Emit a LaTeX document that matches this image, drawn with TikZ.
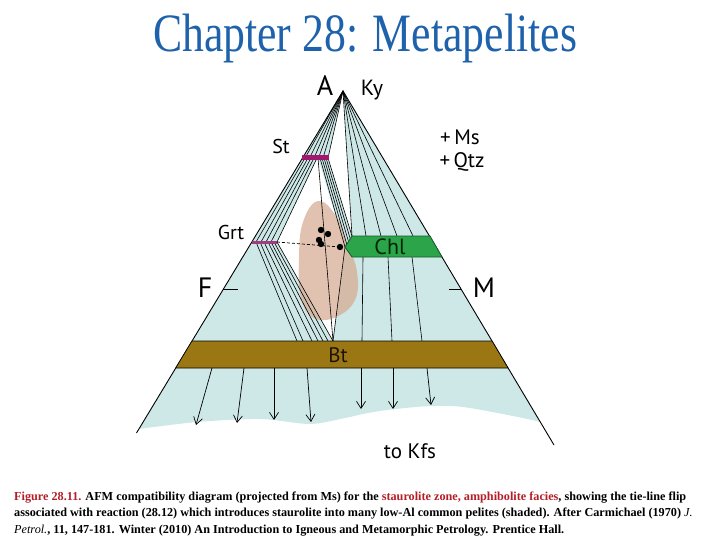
\documentclass[tikz,border=0pt]{standalone}
\usepackage{fontspec}
\usepackage{graphicx}
\setmainfont{Liberation Serif}
\newfontfamily\labelfont{PT Sans}
\usetikzlibrary{arrows.meta, positioning, calc}

\definecolor{tiefill}{RGB}{205,232,231}
\definecolor{shadefill}{RGB}{215,172,148}
\definecolor{stcol}{RGB}{163,24,111}
\definecolor{grtcol}{RGB}{160,60,130}
\definecolor{chlcol}{RGB}{44,165,74}
\definecolor{chlline}{RGB}{20,90,40}
\definecolor{btcol}{RGB}{155,119,20}
\definecolor{titleblue}{RGB}{31,98,172}
\definecolor{capred}{RGB}{180,30,40}

\tikzset{
  tie/.style={black, line width=0.6pt},
  lbl/.style={font=\labelfont\fontsize{20}{20}\selectfont, inner sep=0pt},
  corner/.style={font=\labelfont\fontsize{28}{28}\selectfont, inner sep=0pt},
  kfs/.style={-{Straight Barb[length=7pt,width=9pt]}, line width=0.7pt},
}

\begin{document}
\begin{tikzpicture}[x=1pt, y=-1pt]
    \useasboundingbox (0,0) rectangle (720,540);

    % Corners and phase points
    \coordinate (A) at (343,91);
    \coordinate (stL) at (302.5,158);
    \coordinate (stM) at (318,158);
    \coordinate (stR) at (328,158);
    \coordinate (grL) at (252,242);
    \coordinate (grR) at (277,242);
    \coordinate (chTip) at (345,247);
    \coordinate (chTL) at (352,236);
    \coordinate (btP) at (333,341);
    \coordinate (btTL) at (192,341);
    \coordinate (btTR) at (492,341);
    \coordinate (btBL) at (175.7,368);
    \coordinate (btBR) at (508,368);
    \coordinate (Fend) at (136.5,433);
    \coordinate (Mend) at (554,445);

    % Two-phase fields (light blue)
    \fill[tiefill] (A) -- (stR) -- (317,158) -- (grR) -- (btP) -- (btTL) -- cycle;
    \fill[tiefill] (stM) -- (stR) -- (chTL) -- (chTip) -- cycle;
    \fill[tiefill] (A) -- (chTL) -- (chTip) -- (btP) -- (btTR) -- cycle;
    \fill[tiefill] (btBL) -- (btBR) -- plot[smooth] coordinates {(540.6,422) (513,416) (463,407) (430,406) (387,410) (363,414) (345,418) (310,424) (260,419) (197,422) (139,429)} -- cycle;

    % Shaded common pelites
    \fill[shadefill, opacity=0.75] plot[smooth cycle, tension=0.7] coordinates {(318,201) (336,216) (348,245) (357,272) (355,300) (336,317) (314,318) (301,298) (299,258) (303,222)};

    % Tie lines
    \foreach \x in {305,309.5,314,318.5,323,328} \draw[tie] (A) -- (\x,158);
    \foreach \x in {352,366,381,397,413} \draw[tie] (A) -- (\x,236);
    \foreach \s/\g in {305/256, 308/261, 311/266, 314/271, 317/277} \draw[tie] (\s,158) -- (\g,242);
    \foreach \s/\t in {320/0, 322/0.25, 324/0.5, 326/0.75, 328/1} \draw[tie] (\s,158) -- ($(chTip)!\t!(chTL)$);
    \foreach \g/\b in {256/297, 260/303, 264/312, 268/318, 271/323, 274/328, 277/333} \draw[tie] (\g,242) -- (\b,341);
    \draw[tie] (stM) -- (btP);
    \draw[tie] (chTip) -- (btP);
    \foreach \c/\b in {363/362, 388/392, 412/422} \draw[tie] (\c,257) -- (\b,341);

    % Triangle and ticks
    \draw[line width=0.9pt] (Fend) -- (A) -- (Mend);
    \draw[line width=0.9pt] (223.4,289) -- (238,289);
    \draw[line width=0.9pt] (449,289) -- (461,289);

    % Mineral bars
    \fill[stcol] (302,155.5) rectangle (328.5,160.5);
    \fill[grtcol] (252,240.5) rectangle (277,243.5);
    \filldraw[fill=chlcol, draw=chlline, line width=0.8pt] (chTip) -- (chTL) -- (430,236) -- (442,257) -- (352,257) -- cycle;
    \filldraw[fill=btcol, draw=black, line width=0.6pt] (btTL) -- (btTR) -- (btBR) -- (btBL) -- cycle;

    % Projection to Kfs
    \foreach \a/\b/\c in {212/196/425, 244/237/423, 274/274/420, 307/311/422, 361/361/409, 393/393/409, 427/431/405}
        \draw[kfs] (\a,368) -- (\b,\c);

    % Bulk compositions
    \draw[line width=0.7pt, dash pattern=on 3pt off 2pt] (grR) -- (340,247);
    \foreach \x/\y in {321/230, 328/234, 319/240, 321/244, 340/247} \fill (\x,\y) circle (3.2pt);

    % Labels
    \node[corner] (labA) at (325,86) {A};
    \node[lbl, font=\labelfont\fontsize{22}{22}\selectfont] (labKy) at (372,90) {Ky};
    \node[lbl] (labSt) at (281,147) {St};
    \node[lbl, font=\labelfont\fontsize{21}{21}\selectfont] (labMs) at (460,137) {+\,Ms};
    \node[lbl, font=\labelfont\fontsize{21}{21}\selectfont] (labQtz) at (462,162) {+\,Qtz};
    \node[lbl] (labGrt) at (231,233) {Grt};
    \node[lbl, font=\labelfont\fontsize{22}{22}\selectfont, text=black!85!green] (labChl) at (390,247) {Chl};
    \node[corner] (labF) at (205,288) {F};
    \node[corner] (labM) at (484,288) {M};
    \node[lbl, font=\labelfont\fontsize{21}{21}\selectfont, text=black!85!brown] (labBt) at (338,355) {Bt};
    \node[lbl, font=\labelfont\fontsize{21}{21}\selectfont] (labKfs) at (410,451) {to Kfs};

    % Title and caption
    \node[anchor=base, font=\fontsize{54}{54}\selectfont, text=titleblue, inner sep=0pt] (title) at (365,52) {\scalebox{0.81}[1]{Chapter 28: Metapelites}};
    \node[anchor=base west, align=left, inner sep=0pt, font=\bfseries\fontsize{12.2}{16.5}\selectfont] (caption) at (14,533)
        {{\color{capred}Figure 28.11.} AFM compatibility diagram (projected from Ms) for the {\color{capred}staurolite zone, amphibolite facies}, showing the tie-line flip\\
         associated with reaction (28.12) which introduces staurolite into many low-Al common pelites (shaded). After Carmichael (1970) {\mdseries\itshape J.}\\
         {\mdseries\itshape Petrol.}, 11, 147-181. Winter (2010) An Introduction to Igneous and Metamorphic Petrology. Prentice Hall.};

\end{tikzpicture}
\end{document}
